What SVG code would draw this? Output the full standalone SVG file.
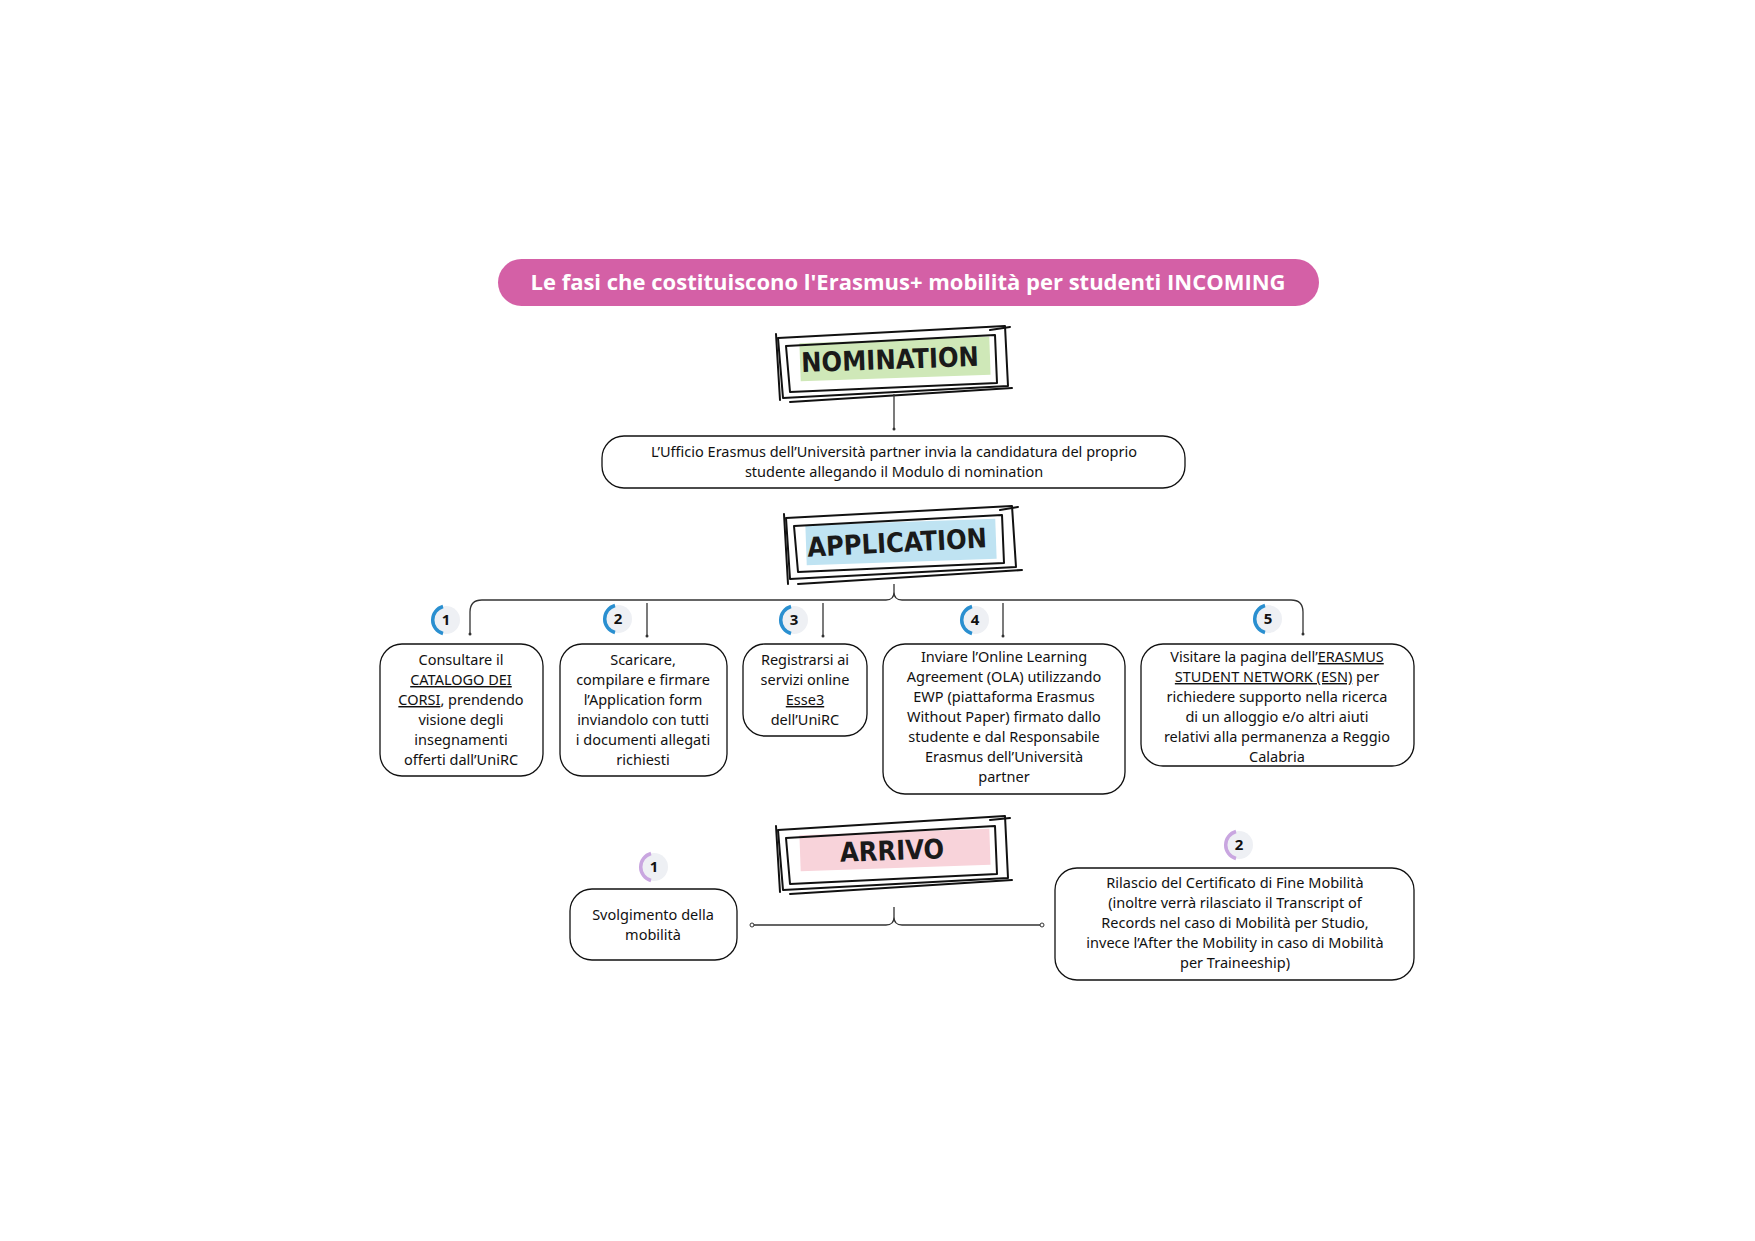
<svg xmlns="http://www.w3.org/2000/svg" width="1755" height="1241" viewBox="0 0 1755 1241">
<style>
.t{font-family:"Noto Sans","DejaVu Sans",sans-serif;font-size:14.5px;fill:#111;text-anchor:middle}
.box{fill:#fff;stroke:#111;stroke-width:1.3}
.sk{fill:none;stroke:#111;stroke-width:2;stroke-linejoin:round;stroke-linecap:round}
.ban{font-family:"DejaVu Sans Condensed","DejaVu Sans",sans-serif;font-weight:bold;font-size:27px;fill:#1a1a1a;text-anchor:middle}
.ln{fill:none;stroke:#333;stroke-width:1.3}
.num{font-family:"Noto Sans",sans-serif;font-weight:bold;font-size:15px;fill:#111;text-anchor:middle}
.u{text-decoration:underline}
</style>
<rect width="1755" height="1241" fill="#fff"/>
<g id="title">
<rect x="498" y="259" width="821" height="47" rx="23.5" fill="#d460a6"/>
<text x="908" y="290" font-family="Open Sans,Noto Sans,sans-serif" font-weight="bold" font-size="22" fill="#fff" text-anchor="middle">Le fasi che costituiscono l'Erasmus+ mobilità per studenti INCOMING</text>
</g>
<g id="nomination">
<rect x="800" y="340" width="190" height="38" fill="#cfe8b8" transform="rotate(-2 895 359)"/>
<path class="sk" d="M778 338 L1005 326 L1008 386 L783 398 Z"/>
<path class="sk" d="M786 346 L995 335 L997 383 L790 392 Z M776 334 L780 400 M790 402 L1012 388 M990 330 L1010 327"/>
<text class="ban" x="890" y="369" transform="rotate(-2 890 359)">NOMINATION</text>
</g>
<g id="application">
<rect x="806" y="522" width="190" height="40" fill="#bfe3f2" transform="rotate(-2 900 542)"/>
<path class="sk" d="M786 518 L1012 506 L1016 567 L790 579 Z"/>
<path class="sk" d="M794 526 L1002 515 L1004 563 L798 572 Z M784 514 L788 584 M798 584 L1022 570 M1000 510 L1018 507"/>
<text class="ban" x="897" y="552" transform="rotate(-3 897 542)">APPLICATION</text>
</g>
<g id="arrivo">
<rect x="800" y="832" width="190" height="36" fill="#f8d3da" transform="rotate(-2 895 850)"/>
<path class="sk" d="M778 830 L1005 816 L1008 878 L783 890 Z"/>
<path class="sk" d="M786 838 L995 826 L997 874 L790 884 Z M776 826 L780 892 M790 894 L1012 880 M990 820 L1010 818"/>
<text class="ban" x="892" y="860" transform="rotate(-2 892 850)">ARRIVO</text>
</g>
<g id="connectors">
<line class="ln" x1="894" y1="394" x2="894" y2="429"/><circle cx="894" cy="429" r="1.5" fill="#333"/>
<path class="ln" d="M894 584 L894 592 Q894 600 886 600 L482 600 Q470 600 470 612 L470 633 M894 592 Q894 600 902 600 L1291 600 Q1303 600 1303 612 L1303 633"/>
<line class="ln" x1="647" y1="603" x2="647" y2="636"/>
<line class="ln" x1="823" y1="603" x2="823" y2="636"/>
<line class="ln" x1="1003" y1="603" x2="1003" y2="636"/>
<g fill="#333"><circle cx="470" cy="634" r="1.5"/><circle cx="647" cy="636" r="1.5"/><circle cx="823" cy="636" r="1.5"/><circle cx="1003" cy="636" r="1.5"/><circle cx="1303" cy="634" r="1.5"/></g>
<path class="ln" d="M752 925 L886 925 Q894 925 894 917 L894 907 M894 917 Q894 925 902 925 L1042 925"/>
<circle cx="752" cy="925" r="2" fill="#fff" stroke="#333"/><circle cx="1042" cy="925" r="2" fill="#fff" stroke="#333"/>
</g>
<g id="nom-box">
<rect class="box" x="602" y="436" width="583" height="52" rx="22"/>
<text class="t" x="894" y="457">L’Ufficio Erasmus dell’Università partner invia la candidatura del proprio</text>
<text class="t" x="894" y="477">studente allegando il Modulo di nomination</text>
</g>
<defs>
<g id="nb"><circle r="14" fill="#eef0f4"/><path d="M-3 -13.5 A14 14 0 0 0 -3 13.5" fill="none" stroke="#2a8fd0" stroke-width="3.5"/></g>
<g id="np"><circle r="14" fill="#eef0f4"/><path d="M-3 -13.5 A14 14 0 0 0 -3 13.5" fill="none" stroke="#c9a6e0" stroke-width="3.5"/></g>
</defs>
<g id="step1">
<use href="#nb" x="446" y="620"/><text class="num" x="446" y="625">1</text>
<rect class="box" x="380" y="644" width="163" height="132" rx="22"/>
<text class="t"><tspan x="461" y="665">Consultare il</tspan><tspan x="461" y="685" class="u">CATALOGO DEI</tspan><tspan x="461" y="705"><tspan class="u">CORSI</tspan>, prendendo</tspan><tspan x="461" y="725">visione degli</tspan><tspan x="461" y="745">insegnamenti</tspan><tspan x="461" y="765">offerti dall’UniRC</tspan></text>
</g>
<g id="step2">
<use href="#nb" x="618" y="619"/><text class="num" x="618" y="624">2</text>
<rect class="box" x="560" y="644" width="167" height="132" rx="22"/>
<text class="t"><tspan x="643" y="665">Scaricare,</tspan><tspan x="643" y="685">compilare e firmare</tspan><tspan x="643" y="705">l’Application form</tspan><tspan x="643" y="725">inviandolo con tutti</tspan><tspan x="643" y="745">i documenti allegati</tspan><tspan x="643" y="765">richiesti</tspan></text>
</g>
<g id="step3">
<use href="#nb" x="794" y="620"/><text class="num" x="794" y="625">3</text>
<rect class="box" x="743" y="644" width="124" height="92" rx="22"/>
<text class="t"><tspan x="805" y="665">Registrarsi ai</tspan><tspan x="805" y="685">servizi online</tspan><tspan x="805" y="705" class="u">Esse3</tspan><tspan x="805" y="725">dell’UniRC</tspan></text>
</g>
<g id="step4">
<use href="#nb" x="975" y="620"/><text class="num" x="975" y="625">4</text>
<rect class="box" x="883" y="644" width="242" height="150" rx="22"/>
<text class="t"><tspan x="1004" y="662">Inviare l’Online Learning</tspan><tspan x="1004" y="682">Agreement (OLA) utilizzando</tspan><tspan x="1004" y="702">EWP (piattaforma Erasmus</tspan><tspan x="1004" y="722">Without Paper) firmato dallo</tspan><tspan x="1004" y="742">studente e dal Responsabile</tspan><tspan x="1004" y="762">Erasmus dell’Università</tspan><tspan x="1004" y="782">partner</tspan></text>
</g>
<g id="step5">
<use href="#nb" x="1268" y="619"/><text class="num" x="1268" y="624">5</text>
<rect class="box" x="1141" y="644" width="273" height="122" rx="22"/>
<text class="t"><tspan x="1277" y="662">Visitare la pagina dell’<tspan class="u">ERASMUS</tspan></tspan><tspan x="1277" y="682"><tspan class="u">STUDENT NETWORK (ESN)</tspan> per</tspan><tspan x="1277" y="702">richiedere supporto nella ricerca</tspan><tspan x="1277" y="722">di un alloggio e/o altri aiuti</tspan><tspan x="1277" y="742">relativi alla permanenza a Reggio</tspan><tspan x="1277" y="762">Calabria</tspan></text>
</g>
<g id="arr1">
<use href="#np" x="654" y="867"/><text class="num" x="654" y="872">1</text>
<rect class="box" x="570" y="889" width="167" height="71" rx="22"/>
<text class="t"><tspan x="653" y="920">Svolgimento della</tspan><tspan x="653" y="940">mobilità</tspan></text>
</g>
<g id="arr2">
<use href="#np" x="1239" y="845"/><text class="num" x="1239" y="850">2</text>
<rect class="box" x="1055" y="868" width="359" height="112" rx="22"/>
<text class="t"><tspan x="1235" y="888">Rilascio del Certificato di Fine Mobilità</tspan><tspan x="1235" y="908">(inoltre verrà rilasciato il Transcript of</tspan><tspan x="1235" y="928">Records nel caso di Mobilità per Studio,</tspan><tspan x="1235" y="948">invece l’After the Mobility in caso di Mobilità</tspan><tspan x="1235" y="968">per Traineeship)</tspan></text>
</g>
</svg>
